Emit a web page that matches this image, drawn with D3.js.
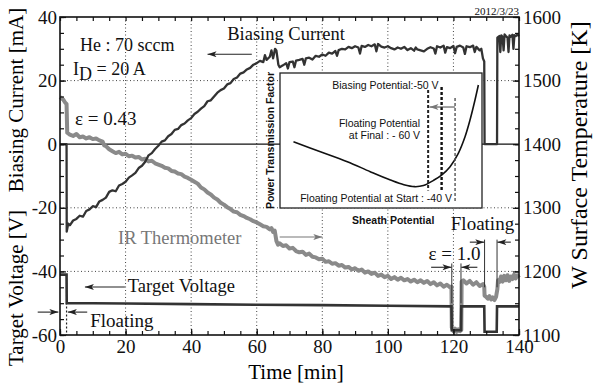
<!DOCTYPE html>
<meta charset="utf-8">
<script src="https://d3js.org/d3.v7.min.js"></script>
<style>
  body { margin: 0; background: #fff; }
  svg text { font-family: "Liberation Serif", "Times New Roman", serif; }
  .sans { font-family: "Liberation Sans", Arial, sans-serif !important; }
</style>
<div id="chart"></div>
<script>

// ---- data ----
// biasing current [min, mA]
var biasCurrent = [
  [0,0],[2,0],[2.05,-27.5],[2.5,-25],[3,-25.5],[4,-24],[5,-23.5],[6,-22.5],[7,-22.8],[8,-21],
  [9,-20.5],[10,-19.5],[11,-19.8],[12,-18],[13,-17.5],[14,-16.8],[15,-15],[16,-14.5],[17,-14.8],
  [18,-13],[19,-12.5],[20,-11.8],[21,-10.5],[22,-9.8],[23,-9],[24,-7.5],[25,-6.8],[26,-5.5],
  [27,-3.5],[28,-2.8],[29,-1.5],[30,-0.5],[31,0.8],[32,1.2],[33,2.5],[34,3.2],[35,4.5],[36,4.8],
  [37,6],[38,6.5],[39,7.5],[40,8.2],[41,9.5],[42,10.2],[43,11.2],[44,12],[45,13.5],[46,13.8],
  [47,15],[48,16.2],[49,17],[50,17.5],[51,18.8],[52,19.2],[53,20.5],[54,21],[55,22.2],[56,22.6],
  [57,23.5],[58,24],[59,25],[60,25.5],[61,26.2],[62,25.8],[62.5,28],[63,26.5],[64,27.5],[64.5,29.5],
  [65,27],[65.6,30],[66,29.5],[66.6,25],[67,24.2],[68,24.8],[69,25.5],[69.5,23.8],[70,25.8],[71,26],
  [71.5,24.2],[72,26.3],[73,26.5],[74,26.8],[74.5,25],[75,27],[76,27.2],[77,26.6],[78,27.8],[79,27.5],
  [80,28.2],[81,27.8],[82,28.8],[83,28.5],[84,29.3],[84.5,27.8],[85,29.6],[86,30],[87,29.8],[88,30.6],
  [89,30.2],[90,30.8],[91,30.4],[91.5,28.5],[92,30.9],[93,30.6],[94,31.2],[95,30.8],[96,31.4],
  [96.5,29.2],[97,31.5],[98,30.7],[99,30.4],[100,30.8],[101,30.2],[102,29.8],[103,30.4],[104,30],
  [105,30.6],[106,29.6],[107,30.2],[108,29.4],[108.5,30.4],[109,29.8],[110,29.5],[111,29.2],[112,30],
  [113,30.5],[114,30.1],[114.5,28.5],[115,30.8],[116,30.4],[117,31],[117.5,28.8],[118,30.5],[119,30.2],
  [120,30.9],[120.5,28.6],[121,30.6],[122,31],[123,30.4],[123.5,28.4],[124,30.8],[125,30.5],[126,31],
  [126.5,29],[127,30.6],[128,29.5],[128.5,30],[129,27],[129.4,26],[129.5,0],[133.3,0],[133.4,33.5],
  [134,34],[134.3,29],[134.6,34.2],[135,33.8],[135.3,29.5],[135.6,34.5],[136,34],[136.5,33.5],
  [136.8,29],[137.1,34.2],[137.5,33.8],[138,34.4],[138.3,30],[138.6,34.3],[139,34],[139.5,34.5],[140,34]
];

// IR thermometer [min, K]
var irTemp = [
  [0,1474],[0.5,1472],[1,1470],[1.5,1466],[2,1463],[2.2,1418],[3,1415],[4,1413],[5,1416],[6,1411],
  [7,1412],[8,1409],[9,1411],[10,1408],[11,1409],[12,1406],[13,1404],[13.5,1398],[14,1397],[15,1392],
  [16,1389],[17,1386],[18,1388],[19,1384],[20,1385],[21,1381],[22,1382],[23,1379],[24,1380],[25,1376],
  [26,1377],[27,1373],[28,1374],[29,1370],[30,1368],[31,1366],[32,1363],[33,1362],[34,1358],[35,1357],
  [36,1354],[37,1353],[38,1349],[39,1347],[40,1344],[41,1341],[42,1338],[43,1332],[44,1329],[45,1324],
  [46,1321],[47,1316],[48,1313],[49,1308],[50,1305],[51,1301],[52,1298],[53,1294],[54,1293],[55,1289],
  [56,1287],[57,1284],[58,1282],[59,1279],[60,1277],[61,1274],[62,1271],[63,1270],[64,1266],[64.5,1268],
  [65,1262],[65.5,1264],[66,1248],[66.5,1242],[67,1244],[68,1240],[69,1241],[70,1236],[71,1237],
  [72,1232],[73,1230],[74,1231],[75,1226],[76,1228],[77,1223],[78,1222],[79,1219],[80,1220],[81,1215],
  [82,1216],[83,1212],[84,1213],[85,1209],[86,1210],[87,1206],[88,1207],[89,1203],[90,1205],[91,1201],
  [92,1203],[93,1198],[94,1200],[95,1196],[96,1198],[97,1193],[98,1195],[99,1191],[100,1193],[101,1188],
  [102,1191],[103,1187],[104,1190],[105,1186],[106,1188],[107,1184],[108,1187],[109,1183],[110,1186],
  [111,1182],[112,1185],[113,1180],[114,1183],[115,1178],[116,1181],[117,1176],[118,1179],[119,1175],
  [119.4,1176],[119.5,1112],[120,1106],[120.5,1110],[121,1105],[121.5,1109],[122,1106],[122.4,1108],
  [122.5,1184],[123,1186],[124,1181],[125,1185],[126,1179],[127,1183],[128,1177],[129,1180],[129.4,1176],
  [129.5,1162],[130,1160],[130.5,1157],[131,1161],[131.5,1156],[132,1159],[132.5,1155],[133,1160],
  [133.4,1172],[133.6,1186],[134,1183],[134.5,1192],[135,1184],[135.5,1193],[136,1186],[136.5,1194],
  [137,1185],[137.5,1192],[138,1188],[138.5,1195],[139,1189],[139.5,1194],[140,1190]
];

// target voltage [min, V]
var targetVolt = [
  [0,-41],[2,-41],[2.05,-50],[10,-50],[20,-50.1],[40,-50.3],[60,-50.5],[80,-50.6],[100,-50.8],
  [119.4,-51],[119.5,-58.5],[122.3,-58.5],[122.4,-51],[129.4,-51],[129.5,-59],[133.2,-59],
  [133.3,-51],[140,-51]
];

var timeTicks = [0, 20, 40, 60, 80, 100, 120, 140];
var leftTicks = [-60, -40, -20, 0, 20, 40];
var rightTicks = [1100, 1200, 1300, 1400, 1500, 1600];
var gridTimes = [20, 40, 60, 80, 100, 120];
var gridLeft = [20, -20, -40];

// inset: power transmission factor vs sheath potential (schematic)
var insetCurve = [
  [-160,0.49],[-140,0.417],[-120,0.343],[-103,0.269],[-88,0.207],[-78,0.172],[-70,0.158],
  [-63.5,0.166],[-56,0.205],[-50,0.244],[-43.7,0.306],[-37.6,0.405],[-32.6,0.528],
  [-28.9,0.652],[-25.2,0.8],[-22.7,0.911]
];
var insetMarks = [
  {v: -60, top: 0.874, bottom: 0.13, w: 2, color: "#222"},
  {v: -50, top: 0.896, bottom: 0.119, w: 2.4, color: "#111"},
  {v: -40, top: 0.815, bottom: 0.044, w: 1.4, color: "#555"}
];

// ---- layout ----
var width = 593, height = 383;
var x = d3.scaleLinear().domain([0, 140]).range([60, 519]);
var yL = d3.scaleLinear().domain([-60, 40]).range([335, 17]);
var yR = d3.scaleLinear().domain([1100, 1600]).range([335, 17]);
var ix = d3.scaleLinear().domain([-170, -20]).range([280, 482]);
var iy = d3.scaleLinear().domain([0, 1]).range([208, 73]);

var svg = d3.select("#chart").append("svg")
  .attr("width", width).attr("height", height);

var defs = svg.append("defs");
function marker(id, color) {
  defs.append("marker")
    .attr("id", id)
    .attr("viewBox", "0 0 12 8")
    .attr("refX", 12).attr("refY", 4)
    .attr("markerWidth", 11).attr("markerHeight", 6)
    .attr("markerUnits", "userSpaceOnUse")
    .attr("orient", "auto")
    .append("path")
    .attr("d", "M0,0 L12,4 L0,8 L3,4 Z")
    .attr("fill", color);
}
marker("ah", "#222");
marker("ahg", "#777");

// grid
var grid = svg.append("g");
grid.selectAll("line.gx").data(gridTimes).enter().append("line")
  .attr("x1", d => x(d)).attr("x2", d => x(d))
  .attr("y1", yL(40)).attr("y2", yL(-60))
  .attr("stroke", "#444").attr("stroke-width", 1).attr("stroke-dasharray", "1,2.5");
grid.selectAll("line.gy").data(gridLeft).enter().append("line")
  .attr("x1", x(0)).attr("x2", x(140))
  .attr("y1", d => yL(d)).attr("y2", d => yL(d))
  .attr("stroke", "#444").attr("stroke-width", 1).attr("stroke-dasharray", "1,2.5");
grid.append("line")
  .attr("x1", x(0)).attr("x2", x(140)).attr("y1", yL(0)).attr("y2", yL(0))
  .attr("stroke", "#111").attr("stroke-width", 1.3);
// floating marker at start
grid.append("line")
  .attr("x1", x(2)).attr("x2", x(2)).attr("y1", yL(-41)).attr("y2", yL(-60))
  .attr("stroke", "#222").attr("stroke-width", 1.2).attr("stroke-dasharray", "2,2");

// data lines
svg.append("path").datum(irTemp)
  .attr("d", d3.line().x(d => x(d[0])).y(d => yR(d[1])))
  .attr("fill", "none").attr("stroke", "#8a8a8a").attr("stroke-width", 4)
  .attr("stroke-linejoin", "round");
svg.append("path").datum(targetVolt)
  .attr("d", d3.line().x(d => x(d[0])).y(d => yL(d[1])))
  .attr("fill", "none").attr("stroke", "#333").attr("stroke-width", 2.6);
svg.append("path").datum(biasCurrent)
  .attr("d", d3.line().x(d => x(d[0])).y(d => yL(d[1])))
  .attr("fill", "none").attr("stroke", "#333").attr("stroke-width", 2.3)
  .attr("stroke-linejoin", "round");

// ---- inset ----
var inset = svg.append("g");
inset.append("rect")
  .attr("x", ix(-170)).attr("y", iy(1))
  .attr("width", ix(-20) - ix(-170)).attr("height", iy(0) - iy(1))
  .attr("fill", "#fff").attr("stroke", "#222").attr("stroke-width", 1.3);
inset.append("path").datum(insetCurve)
  .attr("d", d3.line().curve(d3.curveCatmullRom).x(d => ix(d[0])).y(d => iy(d[1])))
  .attr("fill", "none").attr("stroke", "#111").attr("stroke-width", 1.6);
inset.selectAll("line.im").data(insetMarks).enter().append("line")
  .attr("x1", d => ix(d.v)).attr("x2", d => ix(d.v))
  .attr("y1", d => iy(d.top)).attr("y2", d => iy(d.bottom))
  .attr("stroke", d => d.color).attr("stroke-width", d => d.w)
  .attr("stroke-dasharray", "3,2");
inset.append("line")
  .attr("x1", ix(-40)).attr("x2", ix(-59))
  .attr("y1", iy(0.748)).attr("y2", iy(0.748))
  .attr("stroke", "#444").attr("stroke-width", 1).attr("marker-end", "url(#ahg)");

function sansText(g, tx, ty, str, anchor, size, weight) {
  return g.append("text").attr("class", "sans")
    .attr("x", tx).attr("y", ty).attr("text-anchor", anchor || "start")
    .style("font-size", (size || 10.5) + "px").style("font-weight", weight || "normal")
    .attr("fill", "#111").text(str);
}
sansText(inset, ix(-52.3), iy(0.881), "Biasing Potential:-50 V", "end");
sansText(inset, ix(-66), iy(0.6), "Floating Potential", "end");
sansText(inset, ix(-66), iy(0.511), "at Final : - 60 V", "end");
sansText(inset, ix(-155), iy(0.044), "Floating Potential at Start : -40 V", "start");
sansText(svg, ix(-116.5), 224, "Sheath Potential", "start", 10.5, "bold");
sansText(svg, 0, 0, "Power Transmission Factor", "middle", 10.5, "bold")
  .attr("transform", "translate(274," + ((iy(0) + iy(1)) / 2) + ") rotate(-90)");

// ---- annotations ----
var ann = svg.append("g").attr("fill", "#111");
function serif(tx, ty, str, size, color) {
  return ann.append("text").attr("x", tx).attr("y", ty)
    .style("font-size", size + "px").attr("fill", color || "#111").text(str);
}
function arrow(x1, y1, x2, y2, color, mk) {
  svg.append("line").attr("x1", x1).attr("y1", y1).attr("x2", x2).attr("y2", y2)
    .attr("stroke", color || "#222").attr("stroke-width", 1.1)
    .attr("marker-end", "url(#" + (mk || "ah") + ")");
}

serif(x(6.1), yL(29.4), "He : 70 sccm", 18);
var id = serif(x(4), yL(21.7), "I", 18);
id.append("tspan").attr("dy", 5).text("D");
id.append("tspan").attr("dy", -5).text(" = 20 A");
serif(x(4.6), yL(5.9), "\u03b5 = 0.43", 19);

serif(x(51), yL(32.9), "Biasing Current", 18.5);
arrow(x(58.5), yL(28.3), x(45), yL(28.3));

serif(x(17.7), yL(-31.5), "IR Thermometer", 18.5, "#777");
arrow(x(67), yL(-29.2), x(80), yL(-29.2), "#777", "ahg");

serif(x(20.7), yL(-46.5), "Target Voltage", 18.5);
arrow(x(19.8), yL(-44.9), x(7.6), yL(-44.9));

serif(x(9.2), yL(-57.6), "Floating", 19);
arrow(x(-6.8), yL(-52.8), x(-0.5), yL(-52.8));
arrow(x(8.3), yL(-52.8), x(2.4), yL(-52.8));

serif(x(119.2), yL(-27), "Floating", 19);
serif(x(112.4), yL(-36.5), "\u03b5 = 1.0", 19);
// period markers
[[119.5, -37.5, -50], [122.3, -37.5, -50], [129.5, -30, -45], [133.3, -30, -45]].forEach(function(m) {
  svg.append("line").attr("x1", x(m[0])).attr("x2", x(m[0]))
    .attr("y1", yL(m[1])).attr("y2", yL(m[2]))
    .attr("stroke", "#333").attr("stroke-width", 1);
});
arrow(x(113.2), yL(-38.7), x(119.4), yL(-38.7));
arrow(x(127.3), yL(-38.7), x(122.4), yL(-38.7));
arrow(x(125), yL(-30.8), x(129.4), yL(-30.8));
arrow(x(137.5), yL(-30.8), x(133.4), yL(-30.8));

ann.append("text").attr("x", x(140)).attr("y", 15).attr("text-anchor", "end")
  .style("font-size", "11px").text("2012/3/23");

// ---- frame & axes ----
svg.append("rect")
  .attr("x", x(0)).attr("y", yL(40))
  .attr("width", x(140) - x(0)).attr("height", yL(-60) - yL(40))
  .attr("fill", "none").attr("stroke", "#111").attr("stroke-width", 1.6);

var minorT = d3.range(0, 141, 5), minorL = d3.range(-60, 41, 5), minorR = d3.range(1100, 1601, 25);
function addAxis(axis, tr, size) {
  var g = svg.append("g").attr("transform", tr).call(axis);
  g.select(".domain").remove();
  g.selectAll("text").style("font-size", size + "px")
    .style("font-family", "'Liberation Serif', serif").attr("fill", "#111");
  g.selectAll("line").attr("stroke", "#111").attr("stroke-width", 1.2);
  return g;
}
addAxis(d3.axisBottom(x).tickValues(minorT).tickSize(-4).tickFormat(""), "translate(0," + yL(-60) + ")", 0);
addAxis(d3.axisTop(x).tickValues(minorT).tickSize(-4).tickFormat(""), "translate(0," + yL(40) + ")", 0);
addAxis(d3.axisLeft(yL).tickValues(minorL).tickSize(-4).tickFormat(""), "translate(" + x(0) + ",0)", 0);
addAxis(d3.axisRight(yR).tickValues(minorR).tickSize(-4).tickFormat(""), "translate(" + x(140) + ",0)", 0);

addAxis(d3.axisBottom(x).tickValues(timeTicks).tickSize(-6).tickPadding(5).tickFormat(d => String(d)),
  "translate(0," + yL(-60) + ")", 19);
addAxis(d3.axisLeft(yL).tickValues(leftTicks).tickSize(-6).tickPadding(3).tickFormat(d => String(d)),
  "translate(" + x(0) + ",0)", 19);
addAxis(d3.axisRight(yR).tickValues(rightTicks).tickSize(-6).tickPadding(4).tickFormat(d => String(d)),
  "translate(" + x(140) + ",0)", 19);

// axis titles
svg.append("text").attr("x", 296).attr("y", 379).attr("text-anchor", "middle")
  .style("font-size", "21px").text("Time [min]");
svg.append("text").attr("text-anchor", "middle")
  .attr("transform", "translate(23,100) rotate(-90)")
  .style("font-size", "21px").text("Biasing Current [mA]");
svg.append("text").attr("text-anchor", "middle")
  .attr("transform", "translate(23,288) rotate(-90)")
  .style("font-size", "21px").text("Target Voltage [V]");
svg.append("text").attr("text-anchor", "middle")
  .attr("transform", "translate(587,155) rotate(-90)")
  .style("font-size", "24px").text("W Surface Temperature [K]");

</script>
